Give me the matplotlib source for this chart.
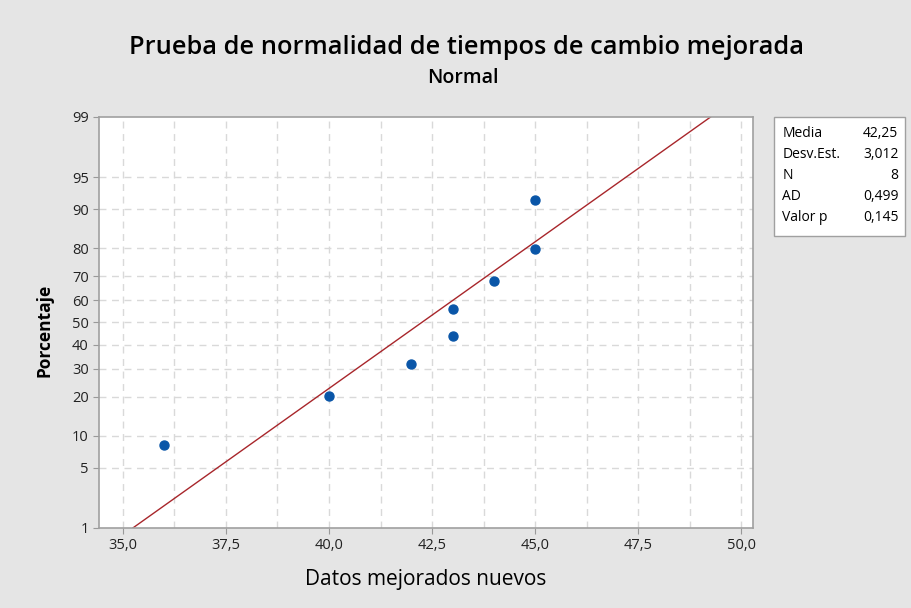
import numpy as np
import matplotlib.pyplot as plt
from statistics import NormalDist

# Data
datos = [36.0, 40.0, 42.0, 43.0, 43.0, 44.0, 45.0, 45.0]
porcentaje = [8.3, 20.2, 32.1, 44.0, 55.9, 67.9, 79.8, 91.7]

# Fitted line ends (x at 1% and 99%)
linea_x = [35.24, 49.26]
linea_p = [1.0, 99.0]

y_ticks = [1, 5, 10, 20, 30, 40, 50, 60, 70, 80, 90, 95, 99]
x_ticks = [35.0, 37.5, 40.0, 42.5, 45.0, 47.5, 50.0]

stats_labels = ["Media", "Desv.Est.", "N", "AD", "Valor p"]
stats_values = ["42,25", "3,012", "8", "0,499", "0,145"]

nd = NormalDist()


def z(p):
    return np.array([nd.inv_cdf(v / 100.0) for v in np.atleast_1d(p)])


plt.rcParams['font.family'] = ['Open Sans', 'DejaVu Sans']

bg = '#e5e5e5'
fig = plt.figure(figsize=(9.12, 6.08), dpi=100, facecolor=bg)
ax = fig.add_axes([0.1086, 0.1316, 0.7171, 0.676])
ax.set_facecolor('white')

# grid
for xv in np.arange(35.0, 50.01, 1.25):
    ax.axvline(xv, color='#d9d9d9', lw=1.0, ls=(0, (5, 4)), zorder=0)
for yv in y_ticks[1:-1]:
    ax.axhline(z(yv)[0], color='#d9d9d9', lw=1.0, ls=(0, (5, 4)), zorder=0)

ax.plot(linea_x, z(linea_p), color='#a8262b', lw=1.0, zorder=2)
ax.scatter(datos, z(porcentaje), s=42, color='#0a56a8', zorder=3)

ax.set_xlim(34.42, 50.29)
ax.set_ylim(z(1)[0], z(99)[0])
ax.set_xticks(x_ticks)
ax.set_xticklabels([f"{v:.1f}".replace('.', ',') for v in x_ticks], fontsize=10.5)
ax.set_yticks(z(y_ticks))
ax.set_yticklabels([str(v) for v in y_ticks], fontsize=10.5)
ax.tick_params(colors='#222222', length=4, color='#999999')

for s in ax.spines.values():
    s.set_color('#a0a0a0')
    s.set_linewidth(1.2)

ax.set_xlabel('Datos mejorados nuevos', fontsize=15, labelpad=11)
ax.set_ylabel('Porcentaje', fontsize=12.5, fontweight='bold')
ax.yaxis.set_label_coords(-0.069, 0.48)

fig.text(0.512, 0.922, 'Prueba de normalidad de tiempos de cambio mejorada',
         ha='center', va='center', fontsize=18.3, fontweight='semibold')
fig.text(0.508, 0.871, 'Normal', ha='center', va='center', fontsize=14,
         fontweight='semibold')

# stats box
box = plt.Rectangle((0.849, 0.612), 0.143, 0.196, transform=fig.transFigure,
                    facecolor='white', edgecolor='#a0a0a0', lw=1.0)
fig.add_artist(box)
for i, (lab, val) in enumerate(zip(stats_labels, stats_values)):
    yy = 0.781 - i * 0.0345
    fig.text(0.858, yy, lab, fontsize=10, va='center', ha='left')
    fig.text(0.985, yy, val, fontsize=10, va='center', ha='right')

fig.savefig('out.png', dpi=100, facecolor=bg)
